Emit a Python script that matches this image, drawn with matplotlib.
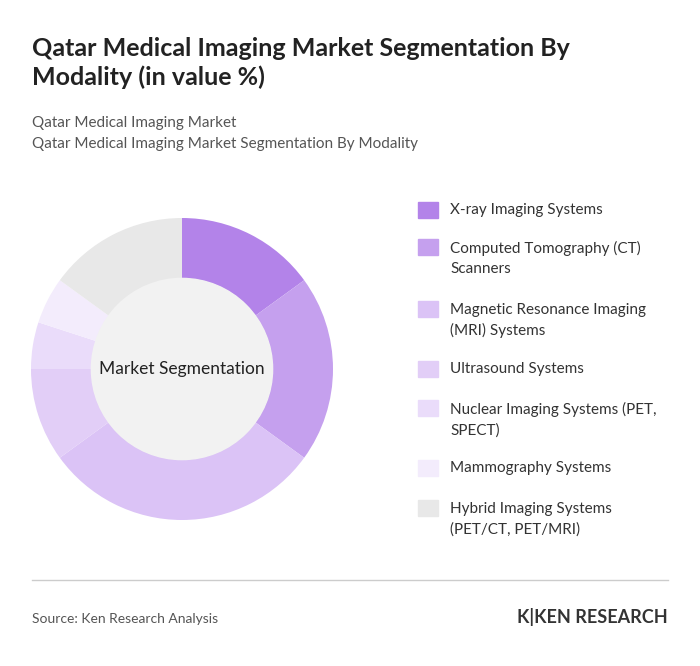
import matplotlib.pyplot as plt
from matplotlib.patches import Circle, Rectangle

labels = ["X-ray Imaging Systems", "Computed Tomography (CT)\nScanners",
          "Magnetic Resonance Imaging\n(MRI) Systems", "Ultrasound Systems",
          "Nuclear Imaging Systems (PET,\nSPECT)", "Mammography Systems",
          "Hybrid Imaging Systems\n(PET/CT, PET/MRI)"]
values = [15, 20, 30, 10, 5, 5, 15]
colors = ["#b383e9", "#c5a0ee", "#dbc3f6", "#e2cef7", "#eadcfa", "#f3ecfc", "#e8e8e8"]

plt.rcParams['font.family'] = ['Lato', 'DejaVu Sans']
fig = plt.figure(figsize=(7, 6.66), dpi=100)
W, H = 700, 666
def fx(x): return x / W
def fy(y): return 1 - y / H

fig.text(fx(32), fy(63), "Qatar Medical Imaging Market Segmentation By\nModality (in value %)",
         fontsize=18, fontweight='bold', color='#222222', va='center', linespacing=1.3)
fig.text(fx(32), fy(123), "Qatar Medical Imaging Market", fontsize=11, color='#555555', va='center')
fig.text(fx(32), fy(144), "Qatar Medical Imaging Market Segmentation By Modality", fontsize=11, color='#555555', va='center')

r = 151
ax = fig.add_axes([fx(182 - r), fy(369 + r), 2 * r / W, 2 * r / H])
ax.pie(values, colors=colors, startangle=90, counterclock=False,
       wedgeprops=dict(width=0.4, linewidth=0))
ax.add_patch(Circle((0, 0), 0.6, color='#f2f2f2', zorder=5))
ax.text(0, 0, "Market Segmentation", ha='center', va='center', fontsize=12.5, color='#222222', zorder=6)
ax.set_xlim(-1, 1); ax.set_ylim(-1, 1); ax.set_aspect('equal'); ax.axis('off')

ys = [210, 247, 309, 369, 408, 468, 508]
for lab, c, y in zip(labels, colors, ys):
    fig.patches.append(Rectangle((fx(418), fy(y + 8)), 20 / W, 16 / H, color=c, transform=fig.transFigure))
    nl = lab.count("\n")
    fig.text(fx(450), fy(y + nl * 11.5), lab, fontsize=11, color='#333333', va='center', linespacing=1.55)

fig.add_artist(plt.Line2D([fx(32), fx(668)], [fy(580), fy(580)], color='#cccccc', lw=1))
fig.text(fx(32), fy(619), "Source: Ken Research Analysis", fontsize=10, color='#555555', va='center')
fig.text(fx(668), fy(617), "K|KEN RESEARCH", fontsize=13, fontweight='bold', color='#333333', va='center', ha='right')
fig.savefig("out.png", dpi=100, facecolor='white')
